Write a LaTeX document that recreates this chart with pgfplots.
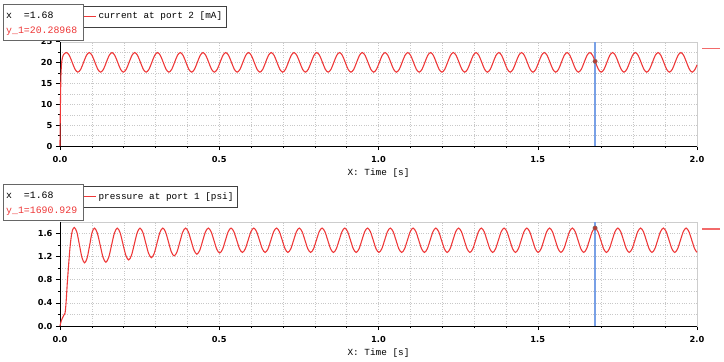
\documentclass[border=0pt]{standalone}
\usepackage{fontspec}
\setmainfont{DejaVu Sans}
\newfontfamily\mono{Liberation Mono}
\usepackage{pgfplots}
\pgfplotsset{compat=1.18}
\definecolor{cred}{RGB}{238,56,56}
\definecolor{curblue}{RGB}{120,160,230}
\definecolor{gridc}{RGB}{200,200,200}
\definecolor{framec}{RGB}{205,205,205}
\definecolor{markc}{RGB}{185,60,50}
\pgfplotsset{
 myax/.style={
  scale only axis, width=637bp, height=104.3bp, anchor=south west,
  xmin=0, xmax=2, xtick={0,0.5,1,1.5,2}, minor x tick num=4,
  tick pos=left, tick align=outside, major tick length=4bp, minor tick length=2bp,
  axis line style={framec}, tick style={black, line width=0.5pt},
  grid=both, major grid style={gridc, dotted}, minor grid style={gridc, dotted},
  xticklabel style={yshift=-2.5bp, /pgf/number format/.cd, fixed, fixed zerofill, precision=1},
  ticklabel style={font=\fontsize{8.3}{9}\selectfont\bfseries, text=black},
  /pgf/number format/assume math mode=true,
  xlabel={X: Time [s]}, xlabel style={font=\mono\fontsize{9.4}{11}\selectfont, yshift=0bp},
  clip=false,
  legend style={draw=black!75, fill=white, font=\mono\fontsize{9.4}{11}\selectfont,
    inner xsep=2bp, inner ysep=4.5bp, anchor=north west, legend cell align=left},
  legend image code/.code={\draw[cred, line width=1.4pt] (0bp,0bp)--(13bp,0bp);},
 }
}
\begin{document}
\begin{tikzpicture}
\useasboundingbox (0,0) rectangle (724bp,-362bp);
% ---------------- top axis ----------------
\begin{axis}[myax, at={(60bp,-146bp)}, ymin=0, ymax=25, ytick={0,5,10,15,20,25}, minor y tick num=1,
  legend style={at={(0.0314,1.347)}}]
\draw[black, line width=0.6pt] (rel axis cs:0,1) -- (rel axis cs:0,0) -- (rel axis cs:1,0);
\addplot[curblue, line width=1.2bp, forget plot, mark=none] coordinates {(1.68,0) (1.68,25)};
\addplot[cred, line width=1.1pt, smooth] coordinates {
(0,0) (0.001,8) (0.003,17) (0.006,20.5) (0.011,21.9)
(0.0204,22.40) (0.0293,21.71) (0.0383,20.05) (0.0472,18.39) (0.0561,17.70) (0.0651,18.39) (0.0740,20.05) (0.0829,21.71)
(0.0918,22.40) (0.1007,21.71) (0.1097,20.05) (0.1186,18.39) (0.1275,17.70) (0.1365,18.39) (0.1454,20.05) (0.1543,21.71)
(0.1633,22.40) (0.1722,21.71) (0.1812,20.05) (0.1901,18.39) (0.1990,17.70) (0.2080,18.39) (0.2169,20.05) (0.2258,21.71)
(0.2347,22.40) (0.2436,21.71) (0.2526,20.05) (0.2615,18.39) (0.2704,17.70) (0.2794,18.39) (0.2883,20.05) (0.2972,21.71)
(0.3062,22.40) (0.3151,21.71) (0.3241,20.05) (0.3330,18.39) (0.3419,17.70) (0.3509,18.39) (0.3598,20.05) (0.3687,21.71)
(0.3776,22.40) (0.3865,21.71) (0.3955,20.05) (0.4044,18.39) (0.4133,17.70) (0.4223,18.39) (0.4312,20.05) (0.4401,21.71)
(0.4490,22.40) (0.4579,21.71) (0.4669,20.05) (0.4758,18.39) (0.4847,17.70) (0.4937,18.39) (0.5026,20.05) (0.5115,21.71)
(0.5205,22.40) (0.5294,21.71) (0.5384,20.05) (0.5473,18.39) (0.5562,17.70) (0.5652,18.39) (0.5741,20.05) (0.5830,21.71)
(0.5919,22.40) (0.6008,21.71) (0.6098,20.05) (0.6187,18.39) (0.6276,17.70) (0.6366,18.39) (0.6455,20.05) (0.6544,21.71)
(0.6634,22.40) (0.6723,21.71) (0.6813,20.05) (0.6902,18.39) (0.6991,17.70) (0.7081,18.39) (0.7170,20.05) (0.7259,21.71)
(0.7348,22.40) (0.7437,21.71) (0.7527,20.05) (0.7616,18.39) (0.7705,17.70) (0.7795,18.39) (0.7884,20.05) (0.7973,21.71)
(0.8062,22.40) (0.8151,21.71) (0.8241,20.05) (0.8330,18.39) (0.8419,17.70) (0.8509,18.39) (0.8598,20.05) (0.8687,21.71)
(0.8777,22.40) (0.8866,21.71) (0.8956,20.05) (0.9045,18.39) (0.9134,17.70) (0.9224,18.39) (0.9313,20.05) (0.9402,21.71)
(0.9491,22.40) (0.9580,21.71) (0.9670,20.05) (0.9759,18.39) (0.9848,17.70) (0.9938,18.39) (1.0027,20.05) (1.0116,21.71)
(1.0206,22.40) (1.0295,21.71) (1.0385,20.05) (1.0474,18.39) (1.0563,17.70) (1.0653,18.39) (1.0742,20.05) (1.0831,21.71)
(1.0920,22.40) (1.1009,21.71) (1.1099,20.05) (1.1188,18.39) (1.1277,17.70) (1.1367,18.39) (1.1456,20.05) (1.1545,21.71)
(1.1634,22.40) (1.1723,21.71) (1.1813,20.05) (1.1902,18.39) (1.1991,17.70) (1.2081,18.39) (1.2170,20.05) (1.2259,21.71)
(1.2349,22.40) (1.2438,21.71) (1.2528,20.05) (1.2617,18.39) (1.2706,17.70) (1.2796,18.39) (1.2885,20.05) (1.2974,21.71)
(1.3063,22.40) (1.3152,21.71) (1.3242,20.05) (1.3331,18.39) (1.3420,17.70) (1.3510,18.39) (1.3599,20.05) (1.3688,21.71)
(1.3778,22.40) (1.3867,21.71) (1.3957,20.05) (1.4046,18.39) (1.4135,17.70) (1.4225,18.39) (1.4314,20.05) (1.4403,21.71)
(1.4492,22.40) (1.4581,21.71) (1.4671,20.05) (1.4760,18.39) (1.4849,17.70) (1.4939,18.39) (1.5028,20.05) (1.5117,21.71)
(1.5206,22.40) (1.5295,21.71) (1.5385,20.05) (1.5474,18.39) (1.5563,17.70) (1.5653,18.39) (1.5742,20.05) (1.5831,21.71)
(1.5921,22.40) (1.6010,21.71) (1.6100,20.05) (1.6189,18.39) (1.6278,17.70) (1.6368,18.39) (1.6457,20.05) (1.6546,21.71)
(1.6635,22.40) (1.6724,21.71) (1.6814,20.05) (1.6903,18.39) (1.6992,17.70) (1.7082,18.39) (1.7171,20.05) (1.7260,21.71)
(1.7350,22.40) (1.7439,21.71) (1.7529,20.05) (1.7618,18.39) (1.7707,17.70) (1.7797,18.39) (1.7886,20.05) (1.7975,21.71)
(1.8064,22.40) (1.8153,21.71) (1.8243,20.05) (1.8332,18.39) (1.8421,17.70) (1.8511,18.39) (1.8600,20.05) (1.8689,21.71)
(1.8778,22.40) (1.8867,21.71) (1.8957,20.05) (1.9046,18.39) (1.9135,17.70) (1.9225,18.39) (1.9314,20.05) (1.9403,21.71)
(1.9493,22.40) (1.9582,21.71) (1.9672,20.05) (1.9761,18.39) (1.9850,17.70) (1.9940,18.39) (2.0,19.46)
};
\addlegendentry{current at port 2 [mA]}
\addplot[only marks, mark=*, mark size=2.2bp, mark options={fill=markc, draw=black!55, line width=0.4pt}, forget plot] coordinates {(1.68,20.29)};
\addplot[cred!75, line width=1.6bp, forget plot] coordinates {(2.016,23.4) (2.072,23.4)};
\end{axis}
% ---------------- bottom axis ----------------
\begin{axis}[myax, at={(60bp,-326bp)}, ymin=0, ymax=1.8, ytick={0,0.4,0.8,1.2,1.6}, minor y tick num=1,
  yticklabel style={/pgf/number format/.cd, fixed, fixed zerofill, precision=1},
  legend style={at={(0.0314,1.343)}}]
\draw[black, line width=0.6pt] (rel axis cs:0,1) -- (rel axis cs:0,0) -- (rel axis cs:1,0);
\addplot[curblue, line width=1.2bp, forget plot, mark=none] coordinates {(1.68,0) (1.68,1.8)};
\addplot[cred, line width=1.1pt, smooth] coordinates {
(0,0) (0.004,0.09) (0.0104,0.17) (0.0157,0.22) (0.019,0.40) (0.023,0.75) (0.027,1.05) (0.031,1.33) (0.035,1.53) (0.039,1.65)
(0.045,1.70) (0.053,1.62) (0.061,1.40) (0.069,1.18) (0.077,1.09) (0.085,1.17) (0.093,1.39) (0.1005,1.61)
(0.1083,1.69) (0.1172,1.604) (0.1262,1.395) (0.1351,1.186) (0.1440,1.10) (0.1530,1.186) (0.1619,1.395) (0.1708,1.604)
(0.1798,1.69) (0.1887,1.610) (0.1977,1.415) (0.2066,1.221) (0.2155,1.14) (0.2245,1.221) (0.2334,1.415) (0.2423,1.610)
(0.2512,1.69) (0.2601,1.615) (0.2691,1.435) (0.2780,1.255) (0.2869,1.18) (0.2959,1.255) (0.3048,1.435) (0.3137,1.615)
(0.3227,1.69) (0.3316,1.620) (0.3406,1.450) (0.3495,1.280) (0.3584,1.21) (0.3674,1.280) (0.3763,1.450) (0.3852,1.620)
(0.3941,1.69) (0.4030,1.624) (0.4120,1.465) (0.4209,1.306) (0.4298,1.24) (0.4388,1.306) (0.4477,1.465) (0.4566,1.624)
(0.4656,1.69) (0.4745,1.627) (0.4835,1.475) (0.4924,1.323) (0.5013,1.26) (0.5103,1.323) (0.5192,1.475) (0.5281,1.627)
(0.5370,1.69) (0.5459,1.628) (0.5549,1.48) (0.5638,1.332) (0.5727,1.27) (0.5817,1.332) (0.5906,1.48) (0.5995,1.628)
(0.6084,1.69) (0.6173,1.628) (0.6263,1.48) (0.6352,1.332) (0.6441,1.27) (0.6531,1.332) (0.6620,1.48) (0.6709,1.628)
(0.6799,1.69) (0.6888,1.628) (0.6978,1.48) (0.7067,1.332) (0.7156,1.27) (0.7246,1.332) (0.7335,1.48) (0.7424,1.628)
(0.7513,1.69) (0.7602,1.628) (0.7692,1.48) (0.7781,1.332) (0.7870,1.27) (0.7960,1.332) (0.8049,1.48) (0.8138,1.628)
(0.8228,1.69) (0.8317,1.628) (0.8407,1.48) (0.8496,1.332) (0.8585,1.27) (0.8675,1.332) (0.8764,1.48) (0.8853,1.628)
(0.8942,1.69) (0.9031,1.628) (0.9121,1.48) (0.9210,1.332) (0.9299,1.27) (0.9389,1.332) (0.9478,1.48) (0.9567,1.628)
(0.9656,1.69) (0.9745,1.628) (0.9835,1.48) (0.9924,1.332) (1.0013,1.27) (1.0103,1.332) (1.0192,1.48) (1.0281,1.628)
(1.0371,1.69) (1.0460,1.628) (1.0550,1.48) (1.0639,1.332) (1.0728,1.27) (1.0818,1.332) (1.0907,1.48) (1.0996,1.628)
(1.1085,1.69) (1.1174,1.628) (1.1264,1.48) (1.1353,1.332) (1.1442,1.27) (1.1532,1.332) (1.1621,1.48) (1.1710,1.628)
(1.1800,1.69) (1.1889,1.628) (1.1979,1.48) (1.2068,1.332) (1.2157,1.27) (1.2247,1.332) (1.2336,1.48) (1.2425,1.628)
(1.2514,1.69) (1.2603,1.628) (1.2693,1.48) (1.2782,1.332) (1.2871,1.27) (1.2961,1.332) (1.3050,1.48) (1.3139,1.628)
(1.3228,1.69) (1.3317,1.628) (1.3407,1.48) (1.3496,1.332) (1.3585,1.27) (1.3675,1.332) (1.3764,1.48) (1.3853,1.628)
(1.3943,1.69) (1.4032,1.628) (1.4122,1.48) (1.4211,1.332) (1.4300,1.27) (1.4390,1.332) (1.4479,1.48) (1.4568,1.628)
(1.4657,1.69) (1.4746,1.628) (1.4836,1.48) (1.4925,1.332) (1.5014,1.27) (1.5104,1.332) (1.5193,1.48) (1.5282,1.628)
(1.5372,1.69) (1.5461,1.628) (1.5551,1.48) (1.5640,1.332) (1.5729,1.27) (1.5819,1.332) (1.5908,1.48) (1.5997,1.628)
(1.6086,1.69) (1.6175,1.628) (1.6265,1.48) (1.6354,1.332) (1.6443,1.27) (1.6533,1.332) (1.6622,1.48) (1.6711,1.628)
(1.6800,1.69) (1.6889,1.628) (1.6979,1.48) (1.7068,1.332) (1.7157,1.27) (1.7247,1.332) (1.7336,1.48) (1.7425,1.628)
(1.7515,1.69) (1.7604,1.628) (1.7694,1.48) (1.7783,1.332) (1.7872,1.27) (1.7962,1.332) (1.8051,1.48) (1.8140,1.628)
(1.8229,1.69) (1.8318,1.628) (1.8408,1.48) (1.8497,1.332) (1.8586,1.27) (1.8676,1.332) (1.8765,1.48) (1.8854,1.628)
(1.8944,1.69) (1.9033,1.628) (1.9123,1.48) (1.9212,1.332) (1.9301,1.27) (1.9391,1.332) (1.9480,1.48) (1.9569,1.628)
(1.9658,1.69) (1.9747,1.628) (1.9837,1.48) (1.9926,1.332) (2.0,1.272)
};
\addlegendentry{pressure at port 1 [psi]}
\addplot[only marks, mark=*, mark size=2.2bp, mark options={fill=markc, draw=black!55, line width=0.4pt}, forget plot] coordinates {(1.68,1.691)};
\addplot[cred!75, line width=1.6bp, forget plot] coordinates {(2.016,1.67) (2.072,1.67)};
\end{axis}
% ---------------- cursor boxes ----------------
\node[draw=black!60, fill=white, line width=0.6pt, inner sep=0, minimum width=80bp, minimum height=36bp, anchor=north west] at (3bp,-4bp) {};
\node[anchor=base west, inner sep=0, font=\mono\fontsize{9.9}{11}\selectfont] at (6bp,-18bp) {x\ \ =1.68};
\node[anchor=base west, inner sep=0, font=\mono\fontsize{9.9}{11}\selectfont, text=cred] at (6bp,-33bp) {y\_1=20.28968};
\node[draw=black!60, fill=white, line width=0.6pt, inner sep=0, minimum width=80bp, minimum height=36bp, anchor=north west] at (3bp,-184bp) {};
\node[anchor=base west, inner sep=0, font=\mono\fontsize{9.9}{11}\selectfont] at (6bp,-198bp) {x\ \ =1.68};
\node[anchor=base west, inner sep=0, font=\mono\fontsize{9.9}{11}\selectfont, text=cred] at (6bp,-213bp) {y\_1=1690.929};
\end{tikzpicture}
\end{document}
